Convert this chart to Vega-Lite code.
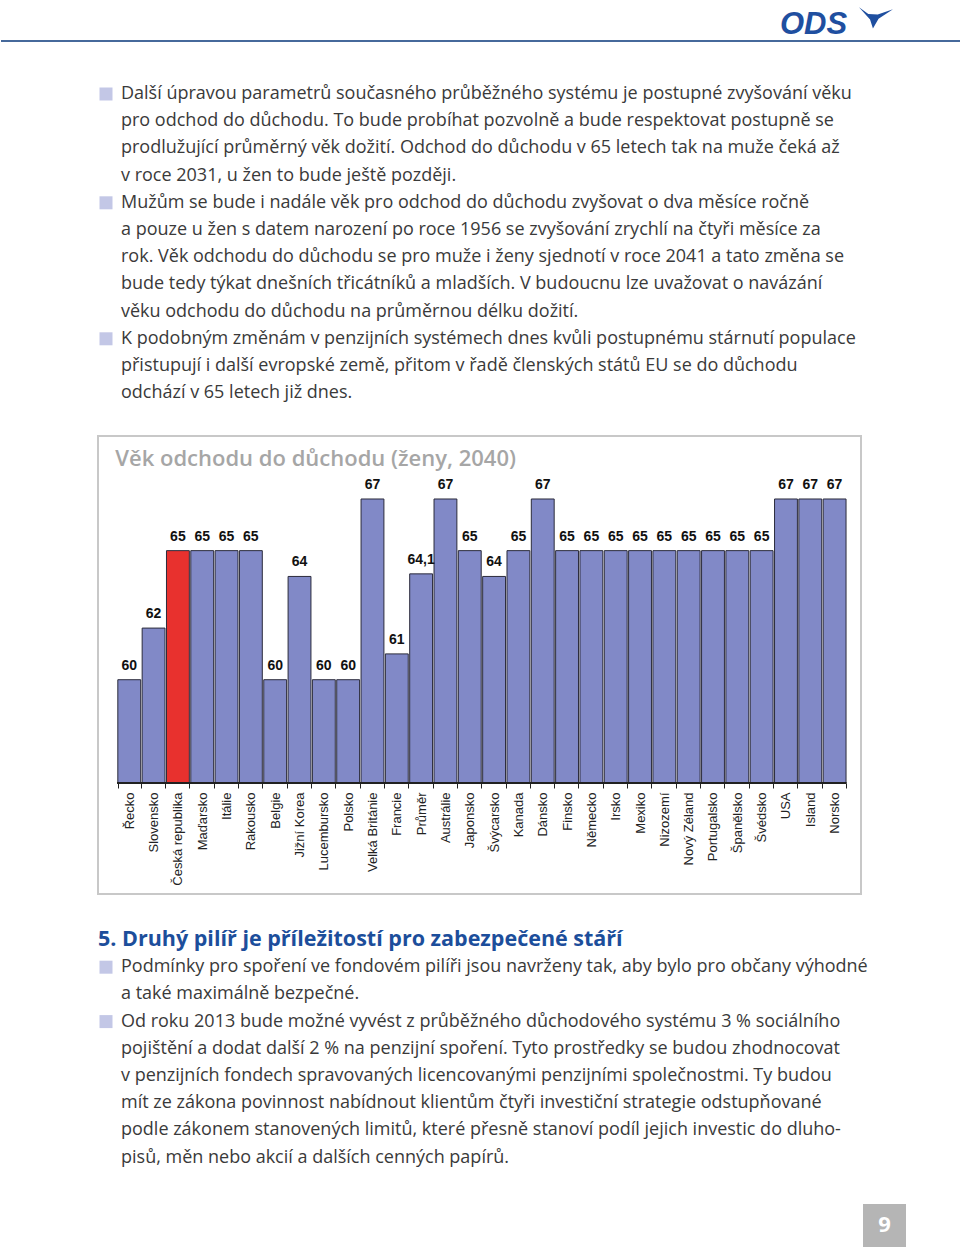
{
  "$schema": "https://vega.github.io/schema/vega-lite/v6.json",
  "padding": 0,
  "background": "white",
  "spacing": 0,
  "config": {
    "view": {"stroke": null},
    "locale": {"number": {"decimal": ",", "thousands": " ", "grouping": [3], "currency": ["", " Kč"]}}
  },
  "datasets": {
    "horni": [
      {"radek": 0, "odrazka": true, "text": "Další úpravou parametrů současného průběžného systému je postupné zvyšování věku"},
      {"radek": 1, "odrazka": false, "text": "pro odchod do důchodu. To bude probíhat pozvolně a bude respektovat postupně se"},
      {"radek": 2, "odrazka": false, "text": "prodlužující průměrný věk dožití. Odchod do důchodu v 65 letech tak na muže čeká až"},
      {"radek": 3, "odrazka": false, "text": "v roce 2031, u žen to bude ještě později."},
      {"radek": 4, "odrazka": true, "text": "Mužům se bude i nadále věk pro odchod do důchodu zvyšovat o dva měsíce ročně"},
      {"radek": 5, "odrazka": false, "text": "a pouze u žen s datem narození po roce 1956 se zvyšování zrychlí na čtyři měsíce za"},
      {"radek": 6, "odrazka": false, "text": "rok. Věk odchodu do důchodu se pro muže i ženy sjednotí v roce 2041 a tato změna se"},
      {"radek": 7, "odrazka": false, "text": "bude tedy týkat dnešních třicátníků a mladších. V budoucnu lze uvažovat o navázání"},
      {"radek": 8, "odrazka": false, "text": "věku odchodu do důchodu na průměrnou délku dožití."},
      {"radek": 9, "odrazka": true, "text": "K podobným změnám v penzijních systémech dnes kvůli postupnému stárnutí populace"},
      {"radek": 10, "odrazka": false, "text": "přistupují i další evropské země, přitom v řadě členských států EU se do důchodu"},
      {"radek": 11, "odrazka": false, "text": "odchází v 65 letech již dnes."}
    ],
    "sloupce": [
      {"zeme": "Řecko", "vek": 60},
      {"zeme": "Slovensko", "vek": 62},
      {"zeme": "Česká republika", "vek": 65},
      {"zeme": "Maďarsko", "vek": 65},
      {"zeme": "Itálie", "vek": 65},
      {"zeme": "Rakousko", "vek": 65},
      {"zeme": "Belgie", "vek": 60},
      {"zeme": "Jižní Korea", "vek": 64},
      {"zeme": "Lucembursko", "vek": 60},
      {"zeme": "Polsko", "vek": 60},
      {"zeme": "Velká Británie", "vek": 67},
      {"zeme": "Francie", "vek": 61},
      {"zeme": "Průměr", "vek": 64.1},
      {"zeme": "Austrálie", "vek": 67},
      {"zeme": "Japonsko", "vek": 65},
      {"zeme": "Švýcarsko", "vek": 64},
      {"zeme": "Kanada", "vek": 65},
      {"zeme": "Dánsko", "vek": 67},
      {"zeme": "Finsko", "vek": 65},
      {"zeme": "Německo", "vek": 65},
      {"zeme": "Irsko", "vek": 65},
      {"zeme": "Mexiko", "vek": 65},
      {"zeme": "Nizozemí", "vek": 65},
      {"zeme": "Nový Zéland", "vek": 65},
      {"zeme": "Portugalsko", "vek": 65},
      {"zeme": "Španělsko", "vek": 65},
      {"zeme": "Švédsko", "vek": 65},
      {"zeme": "USA", "vek": 67},
      {"zeme": "Island", "vek": 67},
      {"zeme": "Norsko", "vek": 67}
    ],
    "dolni": [
      {"radek": 1, "odrazka": true, "text": "Podmínky pro spoření ve fondovém pilíři jsou navrženy tak, aby bylo pro občany výhodné"},
      {"radek": 2, "odrazka": false, "text": "a také maximálně bezpečné."},
      {"radek": 3, "odrazka": true, "text": "Od roku 2013 bude možné vyvést z průběžného důchodového systému 3 % sociálního"},
      {"radek": 4, "odrazka": false, "text": "pojištění a dodat další 2 % na penzijní spoření. Tyto prostředky se budou zhodnocovat"},
      {"radek": 5, "odrazka": false, "text": "v penzijních fondech spravovaných licencovanými penzijními společnostmi. Ty budou"},
      {"radek": 6, "odrazka": false, "text": "mít ze zákona povinnost nabídnout klientům čtyři investiční strategie odstupňované"},
      {"radek": 7, "odrazka": false, "text": "podle zákonem stanovených limitů, které přesně stanoví podíl jejich investic do dluho-"},
      {"radek": 8, "odrazka": false, "text": "pisů, měn nebo akcií a dalších cenných papírů."}
    ]
  },
  "vconcat": [
    {
      "width": 960,
      "height": 435,
      "data": {"name": "horni"},
      "layer": [
        {
          "mark": {"type": "text", "align": "left", "baseline": "middle", "font": "Open Sans", "fontSize": 18, "color": "#3a3a3a"},
          "encoding": {
            "x": {"datum": 120, "type": "quantitative", "scale": {"domain": [0, 960], "nice": false, "zero": false}, "axis": null},
            "y": {"field": "radek", "type": "quantitative", "scale": {"domain": [-3.456, 12.537], "nice": false, "zero": false, "reverse": true}, "axis": null},
            "text": {"field": "text"}
          }
        },
        {
          "transform": [{"filter": "datum.odrazka"}],
          "mark": {"type": "point", "shape": "square", "filled": true, "size": 169, "color": "#c3c7e6", "opacity": 1},
          "encoding": {
            "x": {"datum": 105, "type": "quantitative"},
            "y": {"field": "radek", "type": "quantitative"}
          }
        },
        {
          "mark": {"type": "rule", "color": "#46699b", "strokeWidth": 2},
          "encoding": {"y": {"datum": -1.95, "type": "quantitative"}}
        },
        {
          "data": {"values": [{"logo": "ODS"}]},
          "mark": {"type": "text", "align": "left", "baseline": "middle", "font": "Liberation Sans", "fontStyle": "italic", "fontWeight": "bold", "fontSize": 31, "color": "#1f4fa0"},
          "encoding": {
            "x": {"datum": 779, "type": "quantitative"},
            "y": {"datum": -2.55, "type": "quantitative"},
            "text": {"field": "logo"}
          }
        },
        {
          "data": {"values": [{"logo": "ptak"}]},
          "mark": {"type": "point", "shape": "M -1 -0.62 L -0.45 -0.22 L 0.1 -0.2 L 1 -0.5 L 0.15 0.05 L -0.18 0.62 L -0.35 0.1 Z", "filled": true, "color": "#1f4fa0", "size": 1156, "opacity": 1},
          "encoding": {
            "x": {"datum": 875, "type": "quantitative"},
            "y": {"datum": -2.8, "type": "quantitative"}
          }
        }
      ]
    },
    {
      "spacing": 0,
      "bounds": "flush",
      "hconcat": [
        {
          "width": 97,
          "height": 458,
          "data": {"values": [{}]},
          "mark": {"type": "text", "text": ""},
          "encoding": {}
        },
        {
          "width": 763,
          "height": 458,
          "view": {"stroke": "#c8c8c8", "strokeWidth": 2},
          "data": {"name": "sloupce"},
          "layer": [
            {
              "mark": {"type": "bar", "stroke": "#2b2b3b", "strokeWidth": 1},
              "encoding": {
                "x": {
                  "field": "zeme", "type": "nominal", "sort": null,
                  "scale": {"paddingInner": 0.06, "paddingOuter": 0.715, "align": 0.57},
                  "axis": {
                    "orient": "bottom", "offset": -111, "domain": false, "grid": false,
                    "ticks": true, "tickBand": "extent", "tickSize": 5, "tickColor": "#222", "tickWidth": 1,
                    "labelAngle": 270, "labelFont": "Liberation Sans", "labelFontSize": 13, "labelColor": "#222",
                    "labelPadding": 4, "title": null
                  }
                },
                "y": {"field": "vek", "type": "quantitative", "scale": {"domain": [51.7, 69.44], "nice": false, "zero": false}, "axis": null},
                "y2": {"datum": 56},
                "color": {"condition": {"test": "datum.zeme === 'Česká republika'", "value": "#e8312e"}, "value": "#8189c7"}
              }
            },
            {
              "mark": {"type": "text", "font": "Liberation Sans", "fontWeight": "bold", "fontSize": 14, "baseline": "alphabetic", "dy": -10, "color": "#111"},
              "encoding": {
                "x": {"field": "zeme", "type": "nominal", "sort": null},
                "y": {"field": "vek", "type": "quantitative"},
                "text": {"field": "vek", "type": "quantitative", "format": ".3~g"}
              }
            },
            {
              "mark": {"type": "rule", "color": "#222", "strokeWidth": 1},
              "encoding": {
                "y": {"datum": 56},
                "x": {"datum": "Řecko", "type": "nominal", "bandPosition": 0},
                "x2": {"datum": "Norsko", "bandPosition": 1}
              }
            },
            {
              "data": {"values": [{"nazev": "Věk odchodu do důchodu (ženy, 2040)"}]},
              "mark": {"type": "text", "align": "left", "baseline": "alphabetic", "font": "Open Sans", "fontSize": 22, "fontWeight": 600, "color": "#a6a6a6", "dx": -14},
              "encoding": {
                "x": {"datum": "Řecko", "type": "nominal"},
                "y": {"datum": 68.28},
                "text": {"field": "nazev"}
              }
            }
          ]
        }
      ]
    },
    {
      "width": 960,
      "height": 355,
      "data": {"name": "dolni"},
      "layer": [
        {
          "mark": {"type": "text", "align": "left", "baseline": "middle", "font": "Open Sans", "fontSize": 18, "color": "#3a3a3a"},
          "encoding": {
            "x": {"datum": 120, "type": "quantitative", "scale": {"domain": [0, 960], "nice": false, "zero": false}, "axis": null},
            "y": {"field": "radek", "type": "quantitative", "scale": {"domain": [-1.654, 11.397], "nice": false, "zero": false, "reverse": true}, "axis": null},
            "text": {"field": "text"}
          }
        },
        {
          "transform": [{"filter": "datum.odrazka"}],
          "mark": {"type": "point", "shape": "square", "filled": true, "size": 169, "color": "#c3c7e6", "opacity": 1},
          "encoding": {
            "x": {"datum": 105, "type": "quantitative"},
            "y": {"field": "radek", "type": "quantitative"}
          }
        },
        {
          "data": {"values": [{"nadpis": "5. Druhý pilíř je příležitostí pro zabezpečené stáří"}]},
          "mark": {"type": "text", "align": "left", "baseline": "middle", "font": "Open Sans", "fontSize": 21.5, "fontWeight": "bold", "color": "#1c4e9b"},
          "encoding": {
            "x": {"datum": 97, "type": "quantitative"},
            "y": {"datum": 0, "type": "quantitative"},
            "text": {"field": "nadpis"}
          }
        },
        {
          "data": {"values": [{"strana": "9"}]},
          "mark": {"type": "rect", "color": "#b5b5b5"},
          "encoding": {
            "x": {"datum": 862, "type": "quantitative"},
            "x2": {"datum": 905},
            "y": {"datum": 9.706, "type": "quantitative"},
            "y2": {"datum": 11.287}
          }
        },
        {
          "data": {"values": [{"strana": "9"}]},
          "mark": {"type": "text", "align": "center", "baseline": "middle", "font": "Open Sans", "fontSize": 22, "fontWeight": "bold", "color": "white"},
          "encoding": {
            "x": {"datum": 883.5, "type": "quantitative"},
            "y": {"datum": 10.478, "type": "quantitative"},
            "text": {"field": "strana"}
          }
        }
      ]
    }
  ]
}
